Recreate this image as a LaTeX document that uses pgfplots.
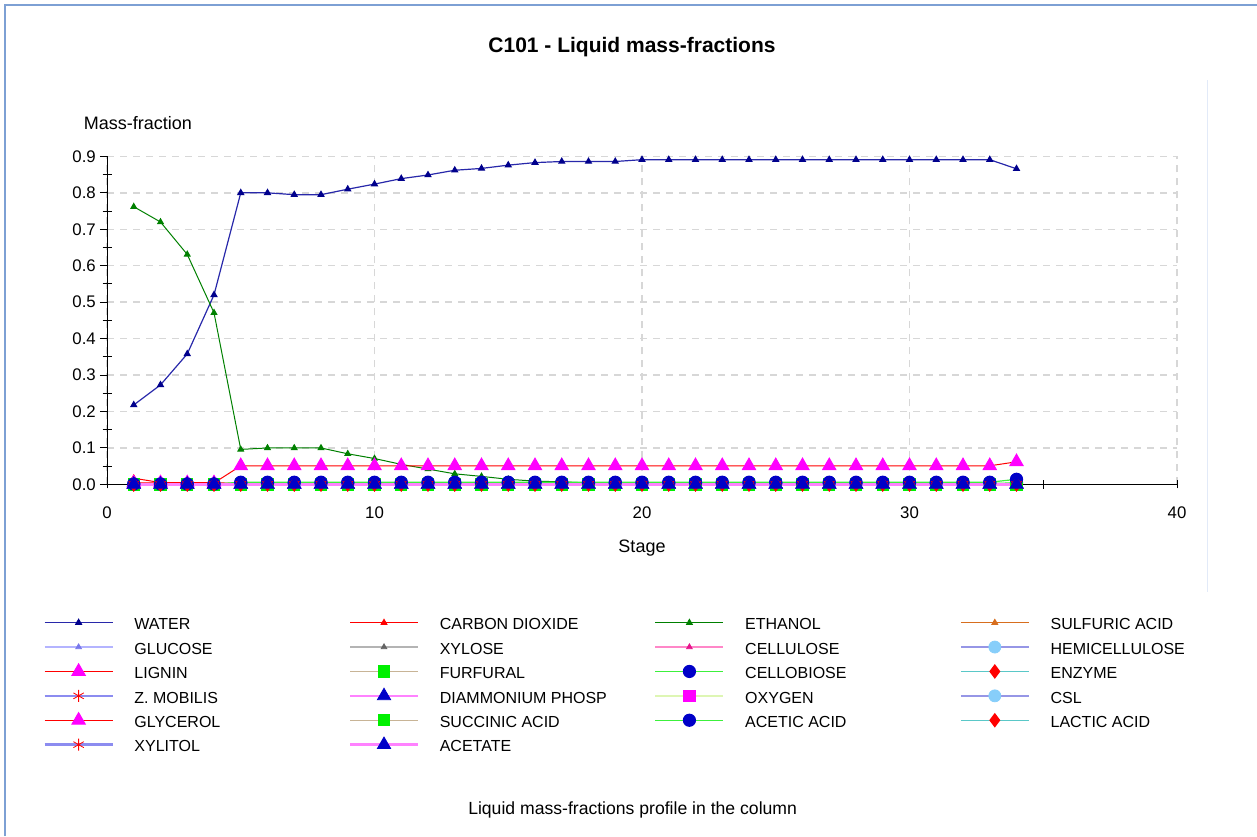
\documentclass[border=0pt]{standalone}
\usepackage{fontspec}
\setmainfont{Liberation Sans}
\usepackage{pgfplots}
\usepackage{pgfplotstable}
\pgfplotsset{compat=1.18}

% line and marker colours
\definecolor{waterL}{RGB}{40,40,170}
\definecolor{waterM}{RGB}{0,0,140}
\definecolor{redL}{RGB}{255,0,0}
\definecolor{ethL}{RGB}{0,128,0}
\definecolor{sulfL}{RGB}{215,110,30}
\definecolor{glucL}{RGB}{180,180,255}
\definecolor{glucM}{RGB}{120,120,235}
\definecolor{xylL}{RGB}{180,180,180}
\definecolor{xylM}{RGB}{100,100,100}
\definecolor{cellL}{RGB}{255,135,200}
\definecolor{cellM}{RGB}{230,20,140}
\definecolor{hemiL}{RGB}{150,150,230}
\definecolor{skyM}{RGB}{135,206,250}
\definecolor{magM}{RGB}{255,0,255}
\definecolor{tanL}{RGB}{200,180,150}
\definecolor{grnM}{RGB}{0,240,0}
\definecolor{ltgrnL}{RGB}{60,240,60}
\definecolor{blueM}{RGB}{0,0,200}
\definecolor{tealL}{RGB}{90,200,200}
\definecolor{zmobL}{RGB}{140,140,240}
\definecolor{pinkL}{RGB}{255,130,255}
\definecolor{oxyL}{RGB}{222,246,180}
\definecolor{gridC}{RGB}{215,215,215}
\definecolor{frameC}{RGB}{125,160,212}
\definecolor{paleC}{RGB}{226,234,248}

% liquid mass fractions per stage
\pgfplotstableread{
stage water co2   ethanol glycerol acetic cellobiose zero
1  0.218 0.017 0.762 0.004 0.001 0.001 0
2  0.273 0.005 0.720 0.004 0.001 0.001 0
3  0.358 0.005 0.631 0.004 0.001 0.001 0
4  0.520 0.005 0.471 0.004 0.001 0.001 0
5  0.800 0.002 0.096 0.051 0.006 0.003 0
6  0.800 0.002 0.100 0.051 0.006 0.003 0
7  0.795 0.002 0.100 0.051 0.006 0.003 0
8  0.795 0.002 0.100 0.051 0.006 0.003 0
9  0.810 0.002 0.084 0.051 0.006 0.003 0
10 0.824 0.002 0.071 0.051 0.006 0.003 0
11 0.839 0.001 0.055 0.051 0.006 0.003 0
12 0.849 0.001 0.042 0.051 0.006 0.003 0
13 0.862 0.001 0.029 0.051 0.006 0.003 0
14 0.867 0.001 0.022 0.051 0.006 0.003 0
15 0.876 0.001 0.014 0.051 0.006 0.003 0
16 0.883 0.001 0.009 0.051 0.006 0.003 0
17 0.886 0.001 0.007 0.051 0.006 0.003 0
18 0.886 0.001 0.004 0.051 0.006 0.003 0
19 0.886 0.001 0.003 0.051 0.006 0.003 0
20 0.891 0.001 0.002 0.051 0.006 0.003 0
21 0.891 0.001 0.002 0.051 0.006 0.003 0
22 0.891 0.001 0.002 0.051 0.006 0.003 0
23 0.891 0.001 0.002 0.051 0.006 0.003 0
24 0.891 0.001 0.002 0.051 0.006 0.003 0
25 0.891 0.001 0.002 0.051 0.006 0.003 0
26 0.891 0.001 0.002 0.051 0.006 0.003 0
27 0.891 0.001 0.002 0.051 0.006 0.003 0
28 0.891 0.001 0.002 0.051 0.006 0.003 0
29 0.891 0.001 0.002 0.051 0.006 0.003 0
30 0.891 0.001 0.002 0.051 0.006 0.003 0
31 0.891 0.001 0.002 0.051 0.006 0.003 0
32 0.891 0.001 0.002 0.051 0.006 0.003 0
33 0.891 0.001 0.002 0.051 0.006 0.003 0
34 0.866 0.001 0.002 0.062 0.014 0.004 0
}\massfrac

% fixed-width legend text cell
\newcommand\lent[1]{\addlegendentry{\makebox[107.2pt][l]{\rule[-3.5pt]{0pt}{12.25pt}#1}}}

\begin{document}
\begin{tikzpicture}
\path[use as bounding box] (0pt,0pt) rectangle (628.5pt,418pt);
% outer panel frame
\draw[frameC, line width=1pt] (2.5pt,0pt) -- (2.5pt,415.5pt) -- (628.5pt,415.5pt);
\draw[paleC, line width=0.5pt] (603.5pt,122pt) -- (603.5pt,378pt);

\begin{axis}[
  at={(53.5pt,175.8pt)}, anchor=south west,
  scale only axis, width=535pt, height=164pt,
  xmin=0, xmax=40, ymin=0, ymax=0.9,
  axis lines=left, axis line style={-, black, line width=0.5pt},
  xtick={0,10,20,30,40},
  ytick={0,0.1,0.2,0.3,0.4,0.5,0.6,0.7,0.8,0.9},
  minor x tick num=1, minor y tick num=1,
  tick align=center, major tick length=4pt, minor tick length=4.5pt,
  tick style={black, line width=0.5pt},
  major y tick style={xshift=-1.6pt},
  grid=major, major grid style={gridC, line width=0.75pt, dash pattern=on 3.5pt off 3pt},
  /pgf/number format/assume math mode=true,
  ticklabel style={font=\fontsize{8.4}{10}\selectfont},
  yticklabel style={/pgf/number format/fixed, /pgf/number format/fixed zerofill,
    /pgf/number format/precision=1, inner sep=0pt, xshift=-3.4pt},
  xticklabel style={inner sep=0pt, yshift=-8.8pt},
  clip=false,
  legend columns=4,
  legend cell align=left,
  legend image code/.code={\draw[mark repeat=2,mark phase=2,#1] plot coordinates {(0pt,0pt) (17pt,0pt) (34pt,0pt)};},
  legend style={at={(-0.0598,-0.389)}, anchor=north west, draw=none, fill=none,
    inner sep=0pt, column sep=0pt, row sep=1.95pt,
    nodes={inner sep=0pt}, font=\fontsize{8}{10}\selectfont,
    /tikz/every odd column/.append style={column sep=10.3pt}},
  every axis plot/.append style={solid},
]
% WATER
\addplot[waterL, line width=0.6pt, mark=triangle*, mark size=1.6pt, mark options={fill=waterM, draw=waterM}] table[x=stage,y=water]{\massfrac};
\lent{WATER}
% CARBON DIOXIDE
\addplot[redL, line width=0.5pt, mark=triangle*, mark size=1.6pt, mark options={fill=redL}] table[x=stage,y=co2]{\massfrac};
\lent{CARBON DIOXIDE}
% ETHANOL
\addplot[ethL, line width=0.5pt, mark=triangle*, mark size=1.6pt, mark options={fill=ethL}] table[x=stage,y=ethanol]{\massfrac};
\lent{ETHANOL}
% SULFURIC ACID
\addplot[sulfL, line width=0.5pt, mark=triangle*, mark size=1.6pt, mark options={fill=sulfL}] table[x=stage,y=zero]{\massfrac};
\lent{SULFURIC ACID}
% GLUCOSE
\addplot[glucL, line width=1.2pt, mark=triangle*, mark size=1.6pt, mark options={fill=glucM, draw=glucM, line width=0.4pt}] table[x=stage,y=zero]{\massfrac};
\lent{GLUCOSE}
% XYLOSE
\addplot[xylL, line width=1.2pt, mark=triangle*, mark size=1.6pt, mark options={fill=xylM, draw=xylM, line width=0.4pt}] table[x=stage,y=zero]{\massfrac};
\lent{XYLOSE}
% CELLULOSE
\addplot[cellL, line width=1.2pt, mark=triangle*, mark size=1.6pt, mark options={fill=cellM, draw=cellM, line width=0.4pt}] table[x=stage,y=zero]{\massfrac};
\lent{CELLULOSE}
% HEMICELLULOSE
\addplot[hemiL, line width=1.2pt, mark=*, mark size=3pt, mark options={fill=skyM, draw=skyM, line width=0.4pt}] table[x=stage,y=zero]{\massfrac};
\lent{HEMICELLULOSE}
% LIGNIN
\addplot[redL, line width=0.5pt, mark=triangle*, mark size=3.8pt, mark options={fill=magM, draw=magM}] table[x=stage,y=zero]{\massfrac};
\lent{LIGNIN}
% FURFURAL
\addplot[tanL, line width=0.6pt, mark=square*, mark size=2.8pt, mark options={fill=grnM, draw=grnM}] table[x=stage,y=zero]{\massfrac};
\lent{FURFURAL}
% CELLOBIOSE
\addplot[ltgrnL, line width=0.6pt, mark=*, mark size=3pt, mark options={fill=blueM, draw=blueM}] table[x=stage,y=cellobiose]{\massfrac};
\lent{CELLOBIOSE}
% ENZYME
\addplot[tealL, line width=0.6pt, mark=diamond*, mark size=3.2pt, mark options={fill=redL, draw=redL}] table[x=stage,y=zero]{\massfrac};
\lent{ENZYME}
% Z. MOBILIS
\addplot[zmobL, line width=1.2pt, mark=asterisk, mark size=3pt, mark options={draw=redL, line width=0.4pt}] table[x=stage,y=zero]{\massfrac};
\lent{Z. MOBILIS}
% DIAMMONIUM PHOSP
\addplot[pinkL, line width=1.2pt, mark=triangle*, mark size=3.8pt, mark options={fill=blueM, draw=blueM, line width=0.4pt}] table[x=stage,y=zero]{\massfrac};
\lent{DIAMMONIUM PHOSP}
% OXYGEN
\addplot[oxyL, line width=1.2pt, mark=square*, mark size=2.8pt, mark options={fill=magM, draw=magM, line width=0.4pt}] table[x=stage,y=zero]{\massfrac};
\lent{OXYGEN}
% CSL
\addplot[hemiL, line width=1.2pt, mark=*, mark size=3pt, mark options={fill=skyM, draw=skyM, line width=0.4pt}] table[x=stage,y=zero]{\massfrac};
\lent{CSL}
% GLYCEROL
\addplot[redL, line width=0.5pt, mark=triangle*, mark size=3.8pt, mark options={fill=magM, draw=magM}] table[x=stage,y=glycerol]{\massfrac};
\lent{GLYCEROL}
% SUCCINIC ACID
\addplot[tanL, line width=0.6pt, mark=square*, mark size=2.8pt, mark options={fill=grnM, draw=grnM}] table[x=stage,y=zero]{\massfrac};
\lent{SUCCINIC ACID}
% ACETIC ACID
\addplot[ltgrnL, line width=0.6pt, mark=*, mark size=3pt, mark options={fill=blueM, draw=blueM}] table[x=stage,y=acetic]{\massfrac};
\lent{ACETIC ACID}
% LACTIC ACID
\addplot[tealL, line width=0.6pt, mark=diamond*, mark size=3.2pt, mark options={fill=redL, draw=redL}] table[x=stage,y=zero]{\massfrac};
\lent{LACTIC ACID}
% XYLITOL
\addplot[zmobL, line width=1.2pt, mark=asterisk, mark size=3pt, mark options={draw=redL, line width=0.4pt}] table[x=stage,y=zero]{\massfrac};
\lent{XYLITOL}
% ACETATE
\addplot[pinkL, line width=1.2pt, mark=triangle*, mark size=3.8pt, mark options={fill=blueM, draw=blueM, line width=0.4pt}] table[x=stage,y=zero]{\massfrac};
\lent{ACETATE}
\end{axis}

\node[anchor=base, font=\fontsize{10.5}{12}\selectfont\bfseries] at (316pt,391.5pt) {C101 - Liquid mass-fractions};
\node[anchor=base west, inner sep=0pt, font=\fontsize{9}{11}\selectfont] at (41.7pt,353pt) {Mass-fraction};
\node[anchor=base, inner sep=0pt, font=\fontsize{9}{11}\selectfont] at (321pt,141.8pt) {Stage};
\node[anchor=base, inner sep=0pt, font=\fontsize{8.8}{11}\selectfont] at (316.3pt,10.9pt) {Liquid mass-fractions profile in the column};
\end{tikzpicture}
\end{document}
